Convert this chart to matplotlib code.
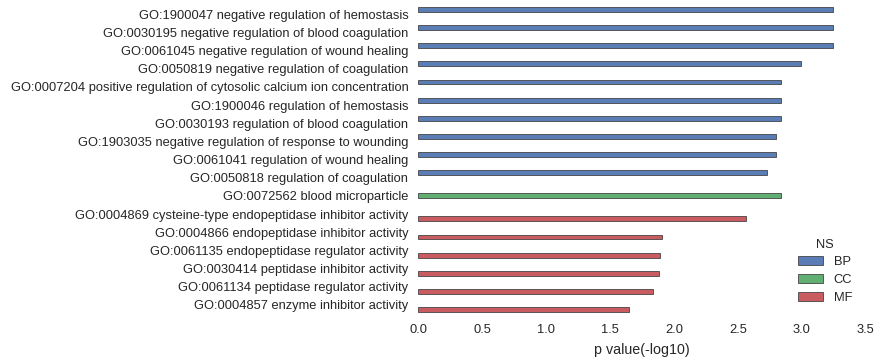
import matplotlib
matplotlib.use("Agg")
import matplotlib.pyplot as plt
import numpy as np

terms = [
    "GO:1900047 negative regulation of hemostasis",
    "GO:0030195 negative regulation of blood coagulation",
    "GO:0061045 negative regulation of wound healing",
    "GO:0050819 negative regulation of coagulation",
    "GO:0007204 positive regulation of cytosolic calcium ion concentration",
    "GO:1900046 regulation of hemostasis",
    "GO:0030193 regulation of blood coagulation",
    "GO:1903035 negative regulation of response to wounding",
    "GO:0061041 regulation of wound healing",
    "GO:0050818 regulation of coagulation",
    "GO:0072562 blood microparticle",
    "GO:0004869 cysteine-type endopeptidase inhibitor activity",
    "GO:0004866 endopeptidase inhibitor activity",
    "GO:0061135 endopeptidase regulator activity",
    "GO:0030414 peptidase inhibitor activity",
    "GO:0061134 peptidase regulator activity",
    "GO:0004857 enzyme inhibitor activity",
]
ns = ["BP"] * 10 + ["CC"] + ["MF"] * 6
pvals = [3.24, 3.24, 3.24, 2.99, 2.84, 2.84, 2.84, 2.80, 2.80, 2.73,
         2.84, 2.56, 1.91, 1.89, 1.88, 1.84, 1.65]
ns_order = ["BP", "CC", "MF"]
colors = {"BP": "#4C72B0", "CC": "#55A868", "MF": "#C44E52"}

plt.rcParams["font.family"] = ["Liberation Sans", "DejaVu Sans"]
plt.rcParams["text.color"] = "#262626"
plt.rcParams["axes.labelcolor"] = "#262626"
plt.rcParams["xtick.color"] = "#262626"
plt.rcParams["ytick.color"] = "#262626"

fig = plt.figure(figsize=(8.8, 3.62), dpi=100)
ax = fig.add_axes([0.475, 0.1326, 0.509, 0.8534])

y = np.arange(len(terms))
w = 0.8 / len(ns_order)
for k, cat in enumerate(ns_order):
    idx = [i for i, n in enumerate(ns) if n == cat]
    off = -0.4 + w / 2 + k * w
    ax.barh(y[idx] + off, [pvals[i] for i in idx], height=w,
            color=colors[cat], edgecolor="#3a3a3a", linewidth=0.6,
            alpha=0.92, label=cat)

ax.set_yticks(y)
ax.set_yticklabels(terms, fontsize=9.25)
ax.set_ylim(len(terms) - 0.5, -0.5)
ax.set_xlim(0, 3.5)
ax.set_xticks(np.arange(0, 3.51, 0.5))
ax.set_xticklabels([f"{v:.1f}" for v in np.arange(0, 3.51, 0.5)], fontsize=9.25)
ax.set_xlabel("p value(-log10)", fontsize=10.3, labelpad=5)
ax.tick_params(length=0, pad=7)
for s in ax.spines.values():
    s.set_visible(False)

leg = ax.legend(title="NS", loc="lower right", frameon=False, fontsize=9.25,
                title_fontsize=9.25, bbox_to_anchor=(0.995, -0.005),
                labelspacing=0.45, handlelength=2.0)

fig.savefig("out.png", dpi=100)
